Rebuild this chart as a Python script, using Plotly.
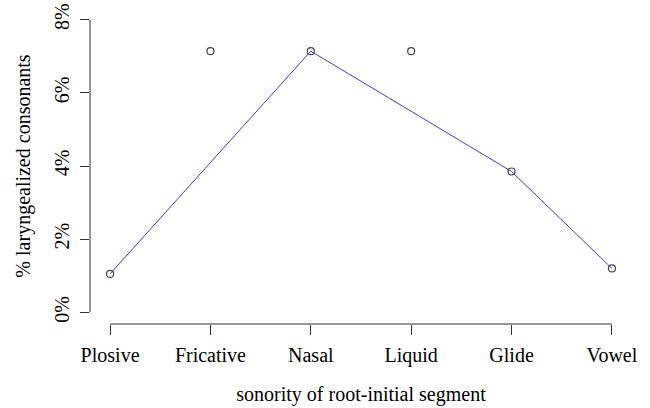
import plotly.graph_objects as go

categories = ["Plosive", "Fricative", "Nasal", "Liquid", "Glide", "Vowel"]
positions = [1, 2, 3, 4, 5, 6]
pct_values = [1.05, 7.14, 7.14, 7.14, 3.85, 1.2]
line_categories = ["Plosive", "Nasal", "Glide", "Vowel"]
y_tick_vals = [0, 2, 4, 6, 8]
y_tick_text = ["0%", "2%", "4%", "6%", "8%"]

FONT = "Liberation Serif, Times New Roman, serif"

line_x = [positions[categories.index(c)] for c in line_categories]
line_y = [pct_values[categories.index(c)] for c in line_categories]

fig = go.Figure()
fig.add_trace(go.Scatter(x=line_x, y=line_y, mode="lines",
                         line=dict(color="#3a3aff", width=1), hoverinfo="skip"))
fig.add_trace(go.Scatter(x=positions, y=pct_values, mode="markers",
                         marker=dict(symbol="circle-open", size=7,
                                     color="#444444", line=dict(width=1.2))))

fig.update_layout(
    width=650, height=408,
    margin=dict(l=90, r=18, t=8, b=84, autoexpand=False),
    plot_bgcolor="white", paper_bgcolor="white",
    showlegend=False,
    font=dict(family=FONT, size=20, color="black"),
    xaxis=dict(range=[0.8, 6.2], tickvals=positions, ticktext=categories,
               ticks="outside", ticklen=10, tickcolor="#333333", tickwidth=1,
               showgrid=False, zeroline=False, showline=False, automargin=False,
               ticklabelstandoff=3, ticklabeloverflow="allow",
               title=dict(text="sonority of root-initial segment", standoff=20,
                          font=dict(size=20))),
    yaxis=dict(range=[-0.32, 8.32], tickvals=y_tick_vals, ticktext=y_tick_text,
               ticks="outside", ticklen=9, tickcolor="#333333", tickwidth=1,
               tickangle=-90, automargin=False,
               showgrid=False, zeroline=False, showline=False,
               ticklabelstandoff=3, ticklabeloverflow="allow",
               title=dict(text="% laryngealized consonants", standoff=15,
                          font=dict(size=20))),
)

fig.add_shape(type="line", xref="x", yref="paper", x0=positions[0], x1=positions[-1],
              y0=0, y1=0, line=dict(color="#333333", width=1))
fig.add_shape(type="line", xref="paper", yref="y", x0=0, x1=0,
              y0=y_tick_vals[0], y1=y_tick_vals[-1], line=dict(color="#333333", width=1))

fig.write_html("out.html", config={"displayModeBar": False},
               post_script="document.body.style.margin='0';")
